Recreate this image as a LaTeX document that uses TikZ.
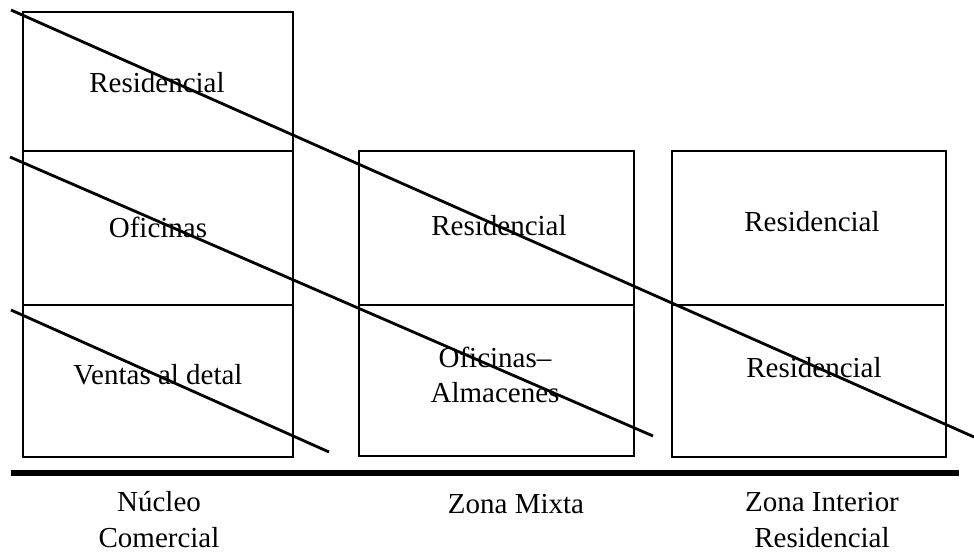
\documentclass[tikz,border=0pt]{standalone}
\usepackage{fontspec}
\setmainfont{Liberation Serif}
\usetikzlibrary{positioning}

\begin{document}
\begin{tikzpicture}[x=0.02cm,y=-0.02cm,
  wall/.style={line width=1.6pt},
  lbl/.style={font=\fontsize{16.5}{19.4}\selectfont,inner sep=0pt,anchor=base,align=center},
  zona/.style={lbl,font=\fontsize{16.5}{20.4}\selectfont}]
  \useasboundingbox (0,0) rectangle (974,552);
  \def\floorA{151}
  \def\floorB{305}
  % edificios
  \draw[wall] (23,12) rectangle (293,457);
  \draw[wall] (23,\floorA) -- (293,\floorA);
  \draw[wall] (23,\floorB) -- (293,\floorB);
  \draw[wall] (359,\floorA) rectangle (634,456);
  \draw[wall] (359,\floorB) -- (634,\floorB);
  \draw[wall] (672,\floorA) rectangle (946,457);
  \draw[wall] (672,\floorB) -- (944,\floorB);
  % suelo
  \draw[line width=3.4pt] (11,473) -- (959,473);
  % diagonales
  \foreach \xa/\ya/\xb/\yb in {11/10/974/437, 10/157/653/436, 11/310/329/452}{
    \draw[wall] (\xa,\ya) -- (\xb,\yb);
  }
  % usos (base = ultima linea)
  \node[lbl] (resA) at (157,92) {Residencial};
  \node[lbl] (ofiA) at (158,237) {Oficinas};
  \node[lbl] (venA) at (158,384) {Ventas al detal};
  \node[lbl] (resB) at (499,235) {Residencial};
  \node[lbl] (ofiB) at (495,402) {Oficinas–\\Almacenes};
  \node[lbl] (resC) at (812,231) {Residencial};
  \node[lbl] (resD) at (814,377) {Residencial};
  % zonas
  \node[zona] (nucleo) at (159,547) {Núcleo\\Comercial};
  \node[zona] (mixta) at (516,513) {Zona Mixta};
  \node[zona] (interior) at (822,547) {Zona Interior\\Residencial};
\end{tikzpicture}
\end{document}
